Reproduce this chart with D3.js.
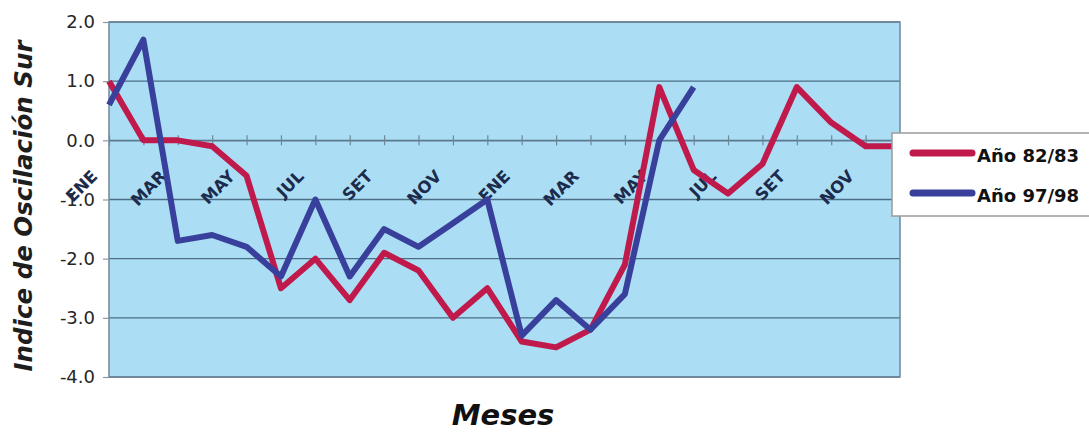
<!DOCTYPE html>
<html>
<head>
<meta charset="utf-8">
<script src="https://cdn.jsdelivr.net/npm/d3@7"></script>
<style>
  html, body { margin: 0; padding: 0; background: #fff; }
  svg { display: block; }
</style>
</head>
<body>
<svg id="chart" width="1089" height="432"></svg>
<script>
const months = ["ENE","FEB","MAR","ABR","MAY","JUN","JUL","AGO","SET","OCT","NOV","DIC",
                "ENE","FEB","MAR","ABR","MAY","JUN","JUL","AGO","SET","OCT","NOV","DIC"];
const serie8283 = [1.0, 0.0, 0.0, -0.1, -0.6, -2.5, -2.0, -2.7, -1.9, -2.2, -3.0, -2.5,
                   -3.4, -3.5, -3.2, -2.1, 0.9, -0.5, -0.9, -0.4, 0.9, 0.3, -0.1, -0.1];
const serie9798 = [0.6, 1.7, -1.7, -1.6, -1.8, -2.3, -1.0, -2.3, -1.5, -1.8, -1.4, -1.0,
                   -3.3, -2.7, -3.2, -2.6, 0.0, 0.9];
const yTicks = [2, 1, 0, -1, -2, -3, -4];
const seriesNames = ["Año 82/83", "Año 97/98"];
const seriesColors = ["#bf1a4b", "#39409c"];

const svg = d3.select("#chart");
const L = 109, R = 900, T = 22, B = 377;

const x = d3.scaleLinear().domain([0, months.length - 1]).range([L, R]);
const y = d3.scaleLinear().domain([-4, 2]).range([B, T]);

// plot background
svg.append("rect").attr("x", L).attr("y", T).attr("width", R - L).attr("height", B - T)
  .attr("fill", "#abdef4");

// gridlines
svg.append("g").selectAll("line").data(yTicks).join("line")
  .attr("x1", L).attr("x2", R).attr("y1", d => y(d)).attr("y2", d => y(d))
  .attr("stroke", "#4b6d85").attr("stroke-width", 1.4);

// plot border
svg.append("rect").attr("x", L).attr("y", T).attr("width", R - L).attr("height", B - T)
  .attr("fill", "none").attr("stroke", "#71869a").attr("stroke-width", 1.5);

// y axis
const fmt = d3.format(".1f");
const yAxis = d3.axisLeft(y).tickValues(yTicks).tickFormat(d => fmt(d).replace("\u2212", "-"))
  .tickSize(6).tickPadding(8);
const gy = svg.append("g").attr("transform", `translate(${L},0)`).call(yAxis);
gy.select(".domain").remove();
gy.selectAll(".tick line").attr("stroke", "#8a98a6").attr("stroke-width", 1.2);
gy.selectAll(".tick text").attr("font-family", "DejaVu Sans").attr("font-size", 18)
  .attr("fill", "#262626");

// x axis on zero line
const xAxis = d3.axisBottom(x).tickValues(d3.range(months.length)).tickSizeInner(5).tickSizeOuter(0)
  .tickFormat(i => i % 2 === 0 ? months[i] : "");
const gx = svg.append("g").attr("transform", `translate(0,${y(0)})`).call(xAxis);
gx.select(".domain").attr("stroke", "#5f7d92").attr("stroke-width", 1.2);
gx.selectAll(".tick line").attr("y1", -5).attr("y2", 5).attr("stroke", "#6d8799").attr("stroke-width", 1.2);
gx.selectAll(".tick text")
  .attr("font-family", "DejaVu Sans").attr("font-weight", "bold").attr("font-size", 16.5)
  .attr("fill", "#1c2b4c").attr("text-anchor", "end")
  .attr("y", 0).attr("dy", 0)
  .attr("transform", "translate(-11,37) rotate(-45)");

// lines
const line = d3.line().x((d, i) => x(i)).y(d => y(d));
[serie8283, serie9798].forEach((s, k) => {
  svg.append("path").datum(s).attr("d", line).attr("fill", "none")
    .attr("stroke", seriesColors[k]).attr("stroke-width", 6)
    .attr("stroke-linejoin", "round").attr("stroke-linecap", "butt");
});

// legend
const lg = svg.append("g");
lg.append("rect").attr("x", 892).attr("y", 133).attr("width", 220).attr("height", 83)
  .attr("fill", "#fff").attr("stroke", "#9b9b9b").attr("stroke-width", 1.5);
seriesNames.forEach((nm, k) => {
  const cy = 153 + k * 40;
  lg.append("line").attr("x1", 913).attr("x2", 972).attr("y1", cy).attr("y2", cy)
    .attr("stroke", seriesColors[k]).attr("stroke-width", 7).attr("stroke-linecap", "round");
  lg.append("text").attr("x", 977).attr("y", cy + 9).text(nm)
    .attr("font-family", "DejaVu Sans").attr("font-weight", "bold").attr("font-size", 18)
    .attr("fill", "#111");
});

// axis titles
svg.append("text").attr("transform", "translate(32,206) rotate(-90)")
  .attr("text-anchor", "middle").text("Indice de Oscilación Sur")
  .attr("font-family", "DejaVu Sans").attr("font-weight", "bold").attr("font-style", "italic")
  .attr("font-size", 24.5).attr("fill", "#1e1e1e");
svg.append("text").attr("x", 503).attr("y", 425).attr("text-anchor", "middle").text("Meses")
  .attr("font-family", "DejaVu Sans").attr("font-weight", "bold").attr("font-style", "italic")
  .attr("font-size", 29).attr("fill", "#111");
</script>
</body>
</html>
